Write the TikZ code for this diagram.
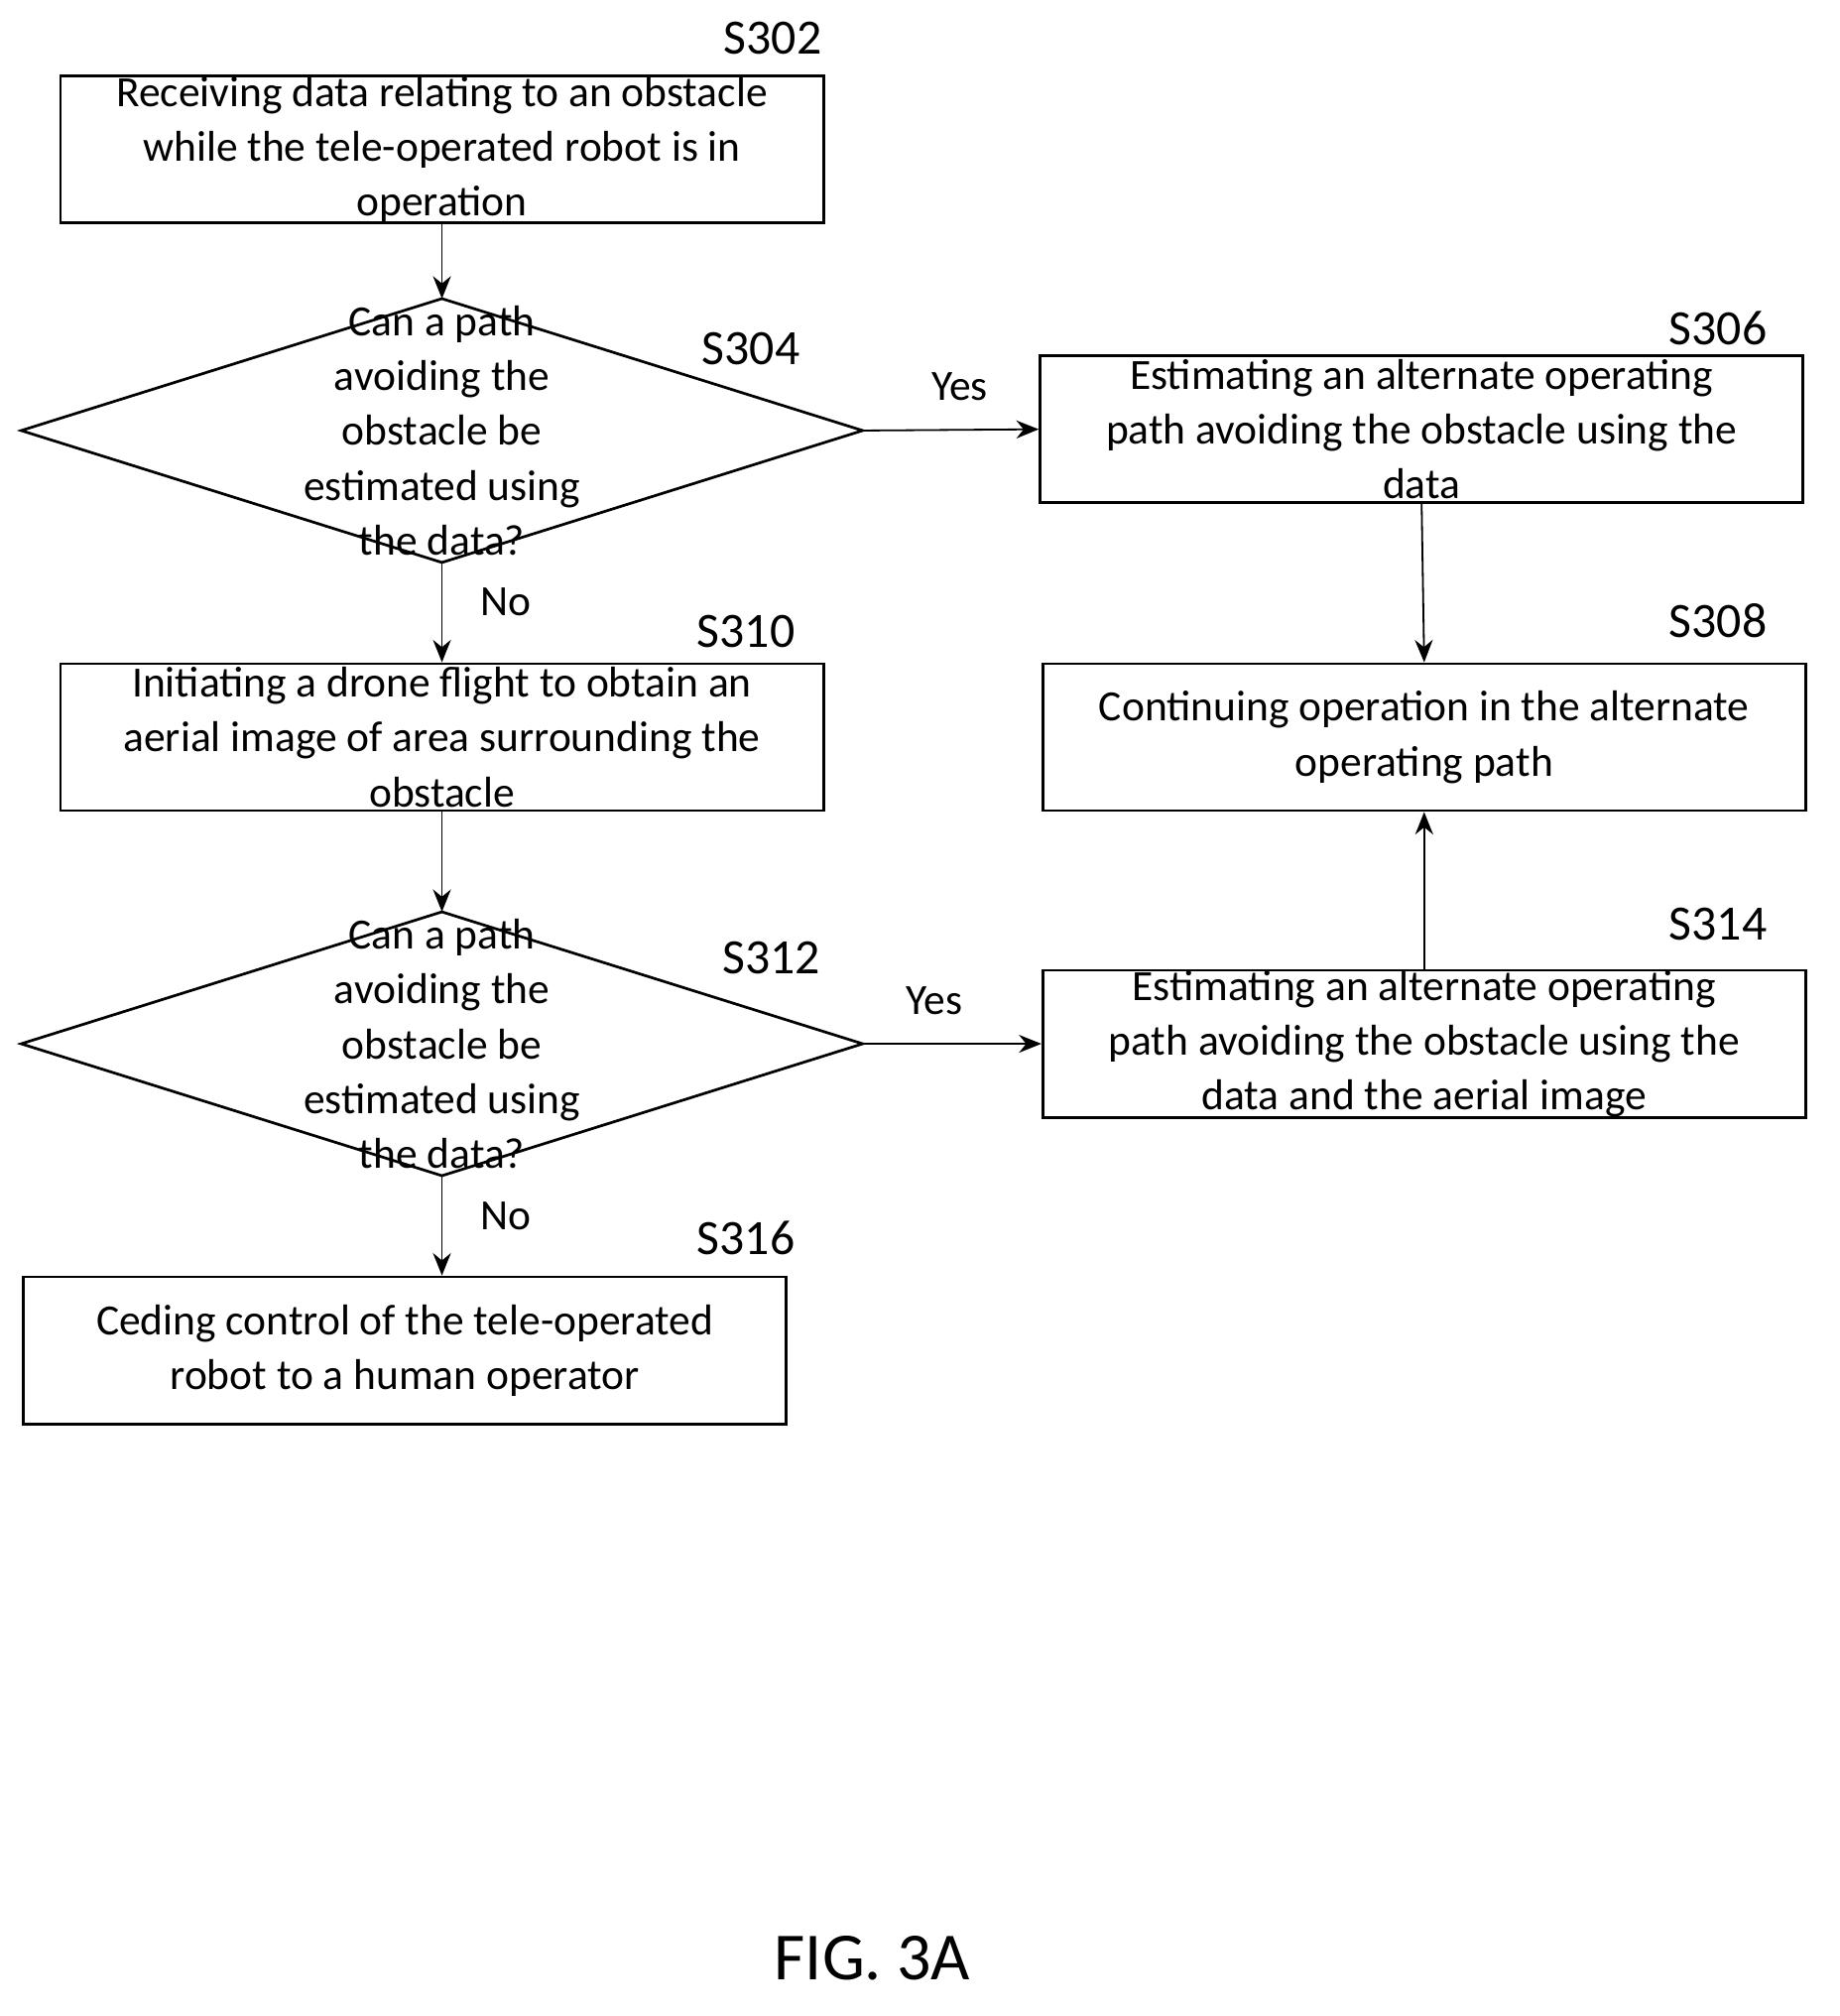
\documentclass[tikz,border=0pt]{standalone}
\usepackage{fontspec}
\setmainfont{Carlito}
\usetikzlibrary{arrows.meta}
\begin{document}
\begin{tikzpicture}[x=0.01cm,y=-0.01cm,
    stepbox/.style={draw,line width=0.6pt,minimum width=5.97cm,minimum height=1.15cm,inner sep=0pt,
      align=center,font=\fontsize{9.6}{12.2}\selectfont},
    ask/.style={minimum width=6.57cm,minimum height=2.05cm,inner sep=0pt},
    asktext/.style={align=center,font=\fontsize{9.6}{12.2}\selectfont},
    tag/.style={font=\fontsize{11}{13}\selectfont},
    flow/.style={draw,line width=0.4pt,-{Stealth[length=5pt,width=4pt]}}]
    \useasboundingbox (0,0) rectangle (1440,1578);
    % boxes
    \path (346,117) node(s302)[stepbox] {Receiving data relating to an obstacle\\while the tele-operated robot is in\\operation};
    \path (346,337) node(q304)[ask] {};
    \path (q304) node[asktext] {Can a path\\avoiding the\\obstacle be\\estimated using\\the data?};
    \path (1113,336) node(s306)[stepbox] {Estimating an alternate operating\\path avoiding the obstacle using the\\data};
    \path (1115,577) node(s308)[stepbox] {Continuing operation in the alternate\\operating path};
    \path (346,577) node(s310)[stepbox] {Initiating a drone flight to obtain an\\aerial image of area surrounding the\\obstacle};
    \path (346,817) node(q312)[ask] {};
    \path (q312) node[asktext] {Can a path\\avoiding the\\obstacle be\\estimated using\\the data?};
    \path (1115,817) node(s314)[stepbox] {Estimating an alternate operating\\path avoiding the obstacle using the\\data and the aerial image};
    \path (317,1057) node(s316)[stepbox] {Ceding control of the tele-operated\\robot to a human operator};
    % diamonds
    \draw[line width=0.6pt] (q304.north)--(q304.east)--(q304.south)--(q304.west)--cycle;
    \draw[line width=0.6pt] (q312.north)--(q312.east)--(q312.south)--(q312.west)--cycle;
    % step labels
    \path (605,30) node[tag] {S302};
    \path (588,273) node[tag] {S304};
    \path (1345,257) node[tag] {S306};
    \path (1345,486) node[tag] {S308};
    \path (584,494) node[tag] {S310};
    \path (604,750) node[tag] {S312};
    \path (1345,723) node[tag] {S314};
    \path (584,969) node[tag] {S316};
    % connectors
    \path (s302) edge[flow] (q304.north);
    \path (q304.south) edge[flow] node[asktext,right=5pt,pos=0.4]{No} (s310.north);
    \path (q304.east) edge[flow] node[asktext,above=3pt,pos=0.55]{Yes} (s306.west);
    \path (s306.south) edge[flow] (s308.north);
    \path (s310.south) edge[flow] (q312.north);
    \path (q312.east) edge[flow] node[asktext,above=3pt,pos=0.4]{Yes} (s314.west);
    \path (s314.north) edge[flow] (s308.south);
    \path (q312.south) edge[flow] node[asktext,right=5pt,pos=0.4]{No} (q312.south |- s316.north);
    \path (683,1533) node(fig)[font=\fontsize{15}{18}\selectfont] {FIG. 3A};
\end{tikzpicture}
\end{document}
